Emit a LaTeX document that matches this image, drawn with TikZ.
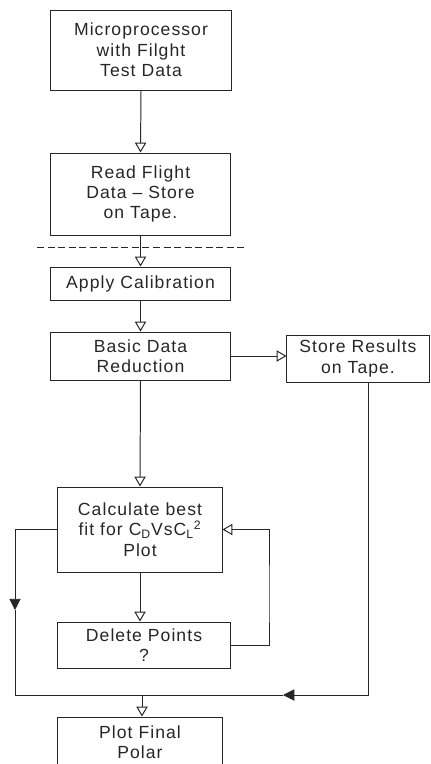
\documentclass[tikz,border=0pt]{standalone}
\usepackage{fontspec}
\setmainfont{Liberation Sans}[LetterSpace=6]
\usepackage{tikz}
\usetikzlibrary{positioning, calc, arrows.meta}

\tikzset{
  flowbox/.style={draw=black!85, line width=0.7pt, align=center, inner sep=2pt,
    text=black!85, font=\fontsize{12.5}{14.5}\selectfont},
  flowarrow/.style={draw=black!85, line width=0.7pt, -{Triangle[open, width=8pt, length=7pt]}},
  midarrow/.style={draw=black!85, line width=0.7pt, -{Triangle[width=8pt, length=8pt]}},
  flowline/.style={draw=black!85, line width=0.7pt},
}

\begin{document}
\begin{tikzpicture}[x=0.025cm, y=-0.025cm]
\useasboundingbox (0,0) rectangle (430,764);

% boxes
\node[flowbox, minimum width=4.5cm, minimum height=2cm] (micro) at (141,50) {Microprocessor\\with Filght\\Test Data};
\node[flowbox, minimum width=4.475cm, minimum height=2.05cm] (read) at (140.5,194) {Read Flight\\Data -- Store\\on Tape.};
\node[flowbox, minimum width=4.475cm, minimum height=0.825cm] (apply) at (140.5,283.5) {Apply Calibration};
\node[flowbox, minimum width=4.475cm, minimum height=1.2cm] (basic) at (140.5,356) {Basic Data\\Reduction};
\node[flowbox, minimum width=3.55cm, minimum height=1.175cm] (store) at (358,358.5) {Store Results\\on Tape.};
\node[flowbox, minimum width=4.1cm, minimum height=2.125cm] (calc) at (140,529.5) {Calculate best\\fit for C\textsubscript{D}VsC\textsubscript{L}\textsuperscript{2}\\Plot};
\node[flowbox, minimum width=4.3cm, minimum height=1.15cm] (delete) at (144,645) {Delete Points\\?};
\node[flowbox, minimum width=4.1cm, minimum height=1.25cm] (plot) at (140,742) {Plot Final\\Polar};

% helper points
\coordinate (cutL) at (37,247);
\coordinate (cutR) at (245,247);
\coordinate (loopR) at (269,600);
\coordinate (leftMid) at (15,610);
\coordinate (storeX) at (368,695);
\coordinate (bottomMid) at (283,695);
\coordinate (join) at (142,695);

% dashed cut
\draw[flowline, dash pattern=on 5pt off 2.5pt] (cutL) -- (cutR);

% connectors
\draw[flowarrow] (micro.south) -- (read.north);
\draw[flowarrow] (read.south) -- (apply.north);
\draw[flowarrow] (apply.south) -- (basic.north);
\draw[flowarrow] (basic.east) -- (basic.east -| store.west);
\draw[flowarrow] (basic.south) -- (calc.north);
\draw[flowarrow] (calc.south) -- (calc.south |- delete.north);
\draw[flowarrow] (delete.east) -| (loopR) |- (calc.east);
\draw[midarrow] (calc.west) -| (leftMid);
\draw[flowline] (leftMid) |- (join);
\draw[midarrow] (store.south -| storeX) |- (bottomMid);
\draw[flowline] (bottomMid) -- (join);
\draw[flowarrow] (join) -- (join |- plot.north);
\end{tikzpicture}
\end{document}
